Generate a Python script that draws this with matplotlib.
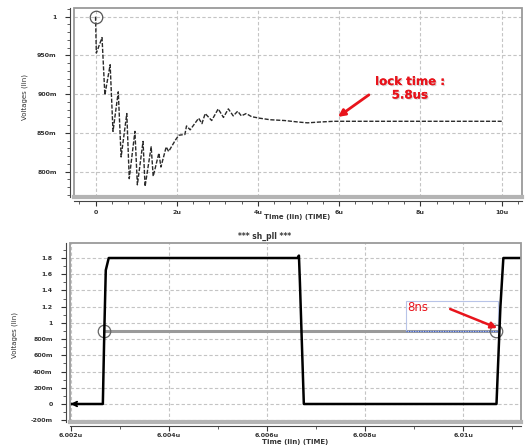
import numpy as np
import matplotlib
matplotlib.use('Agg')
import matplotlib.pyplot as plt
import matplotlib.patheffects as pe
from matplotlib.patches import Rectangle
from matplotlib.ticker import MultipleLocator

# ---- top plot: PLL control voltage settling (time in us, volts)
settle_t = [0, 0.02, 0.16, 0.23, 0.36, 0.43, 0.56, 0.63, 0.77, 0.83, 0.97, 1.03,
            1.17, 1.22, 1.37, 1.42, 1.56, 1.61, 1.74, 1.80, 1.97, 2.05, 2.20,
            2.24, 2.33, 2.54, 2.62, 2.70, 2.86, 3.02, 3.15, 3.27, 3.39, 3.50,
            3.59, 3.71, 3.84, 4.04, 4.30, 4.65, 5.00, 5.22, 5.50, 5.87, 10.0]
settle_v = [1.0, 0.953, 0.973, 0.899, 0.938, 0.852, 0.903, 0.819, 0.875, 0.791,
            0.852, 0.783, 0.839, 0.781, 0.832, 0.794, 0.824, 0.806, 0.832, 0.826,
            0.841, 0.847, 0.848, 0.859, 0.854, 0.869, 0.862, 0.875, 0.866, 0.881,
            0.870, 0.881, 0.872, 0.878, 0.872, 0.875, 0.871, 0.869, 0.867, 0.866,
            0.864, 0.863, 0.864, 0.865, 0.865]
top_xticks = [0, 2, 4, 6, 8, 10]
top_xlabels = ['0', '2u', '4u', '6u', '8u', '10u']
top_yticks = [0.80, 0.85, 0.90, 0.95, 1.0]
top_ylabels = ['800m', '850m', '900m', '950m', '1']

# ---- bottom plot: sh_pll output clock (time in us, volts)
clk_t = [6.002, 6.00265, 6.00268, 6.00271, 6.00277, 6.00662, 6.00665, 6.00667,
         6.00675, 6.01068, 6.01076, 6.01082, 6.0112]
clk_v = [0, 0, 0.9, 1.65, 1.8, 1.8, 1.83, 1.5, 0, 0, 1.2, 1.8, 1.8]
meas_t = [6.00268, 6.01068]
meas_v = [0.9, 0.9]
bot_xticks = [6.002, 6.004, 6.006, 6.008, 6.010]
bot_xlabels = ['6.002u', '6.004u', '6.006u', '6.008u', '6.01u']
bot_yticks = [-0.2, 0, 0.2, 0.4, 0.6, 0.8, 1.0, 1.2, 1.4, 1.6, 1.8]
bot_ylabels = ['-200m', '0', '200m', '400m', '600m', '800m', '1', '1.2', '1.4', '1.6', '1.8']

RED = '#e8141c'

fig = plt.figure(figsize=(5.26, 4.45), dpi=100)
ax1 = fig.add_axes([74/526, 248/445, 448/526, 189/445])
ax2 = fig.add_axes([70/526, 23/445, 451/526, 179/445])


def style_axes(ax, xpad=3):
    for s in ['top', 'right']:
        ax.spines[s].set_visible(False)
    for s in ['left', 'bottom']:
        ax.spines[s].set_position(('outward', 3))
        ax.spines[s].set_color('#444444')
        ax.spines[s].set_linewidth(0.8)
    ax.add_patch(Rectangle((0, 0), 1, 1, transform=ax.transAxes, fill=False,
                           edgecolor='#9a9a9a', lw=1.3, clip_on=False, zorder=5))
    ax.plot([0, 1], [0, 0], transform=ax.transAxes, color='#b4b4b4', lw=3,
            clip_on=False, zorder=5)
    ax.grid(True, which='major', color='#c4c4c4', ls=(0, (3, 2)), lw=0.8)
    ax.tick_params(which='major', length=3.5, width=0.8, labelsize=4.5,
                   colors='#333333', pad=xpad)
    ax.tick_params(which='minor', length=2, width=0.6, colors='#444444')
    ax.tick_params(axis='y', which='major', pad=6)
    for lab in ax.get_xticklabels() + ax.get_yticklabels():
        lab.set_fontweight('bold')


# ===== top plot =====
ax1.plot(settle_t, settle_v, color='#2a2a2a', lw=1.0, ls=(0, (3, 1.2)))
ax1.plot([0], [1.0], marker='o', ms=9, mfc='none', mec='#555555', mew=0.9)
ax1.set_xlim(-0.53, 10.5)
ax1.set_ylim(0.7673, 1.0112)
ax1.set_xticks(top_xticks, top_xlabels)
ax1.set_yticks(top_yticks, top_ylabels)
ax1.xaxis.set_minor_locator(MultipleLocator(0.4))
ax1.yaxis.set_minor_locator(MultipleLocator(0.01))
style_axes(ax1)

shadow = [pe.withSimplePatchShadow(offset=(0.8, -0.8), shadow_rgbFace='#999999', alpha=0.4),
          pe.Normal()]
ax1.text(7.74, 0.9076, 'lock time :\n5.8us', color=RED, fontsize=8.5,
         fontweight='bold', ha='center', va='center', linespacing=1.05,
         path_effects=shadow)
ax1.annotate('', xy=(5.97, 0.8707), xytext=(6.73, 0.8991),
             arrowprops=dict(arrowstyle='-|>', color=RED, lw=2,
                             mutation_scale=10, shrinkA=0, shrinkB=0))

# ===== bottom plot =====
ax2.plot(meas_t, meas_v, color='#9a9a9a', lw=2.2, zorder=3)
ax2.plot(meas_t, meas_v, ls='none', marker='o', ms=9, mfc='none',
         mec='#666666', mew=0.9, zorder=4)
ax2.plot(clk_t, clk_v, color='black', lw=1.8, zorder=4, solid_joinstyle='round')
ax2.annotate('', xy=(6.00199, 0), xytext=(6.0023, 0),
             arrowprops=dict(arrowstyle='->', color='black', lw=1.4,
                             mutation_scale=8, shrinkA=0, shrinkB=0), zorder=5)
ax2.set_xlim(6.00198, 6.01118)
ax2.set_ylim(-0.222, 1.985)
ax2.set_xticks(bot_xticks, bot_xlabels)
ax2.set_yticks(bot_yticks, bot_ylabels)
ax2.xaxis.set_minor_locator(MultipleLocator(0.001))
ax2.yaxis.set_minor_locator(MultipleLocator(0.1))
style_axes(ax2, xpad=1.5)

# "8ns" measurement box
ax2.add_patch(Rectangle((6.008837, 0.9), 6.010714 - 6.008837, 0.37, fill=False,
                        edgecolor='#b8c4e8', lw=0.8, zorder=3))
ax2.plot([6.008837, 6.010714], [0.9, 0.9], color='#4060c0', lw=0.9,
         ls=(0, (1, 1)), zorder=3)
ax2.text(6.00886, 1.184, '8ns', color=RED, fontsize=8.5, ha='left', va='center')
ax2.annotate('', xy=(6.010694, 0.937), xytext=(6.009735, 1.171),
             arrowprops=dict(arrowstyle='-|>', color=RED, lw=1.8,
                             mutation_scale=9, shrinkA=0, shrinkB=0), zorder=6)

# labels
fig.text(297/526, 1 - 217/445, 'Time (lin) (TIME)', fontsize=5, fontweight='bold',
         color='#333333', ha='center', va='center')
fig.text(295/526, 1 - 442/445, 'Time (lin) (TIME)', fontsize=5, fontweight='bold',
         color='#333333', ha='center', va='center')
fig.text(25/526, 1 - 97/445, 'Voltages (lin)', fontsize=5, color='#333333',
         rotation=90, ha='center', va='center')
fig.text(15/526, 1 - 335/445, 'Voltages (lin)', fontsize=5, color='#333333',
         rotation=90, ha='center', va='center')
fig.text(265/526, 1 - 236/445, '*** sh_pll ***', fontsize=5.5, fontweight='bold',
         color='#333333', ha='center', va='center')

fig.savefig('out.png', dpi=100, facecolor='white')
